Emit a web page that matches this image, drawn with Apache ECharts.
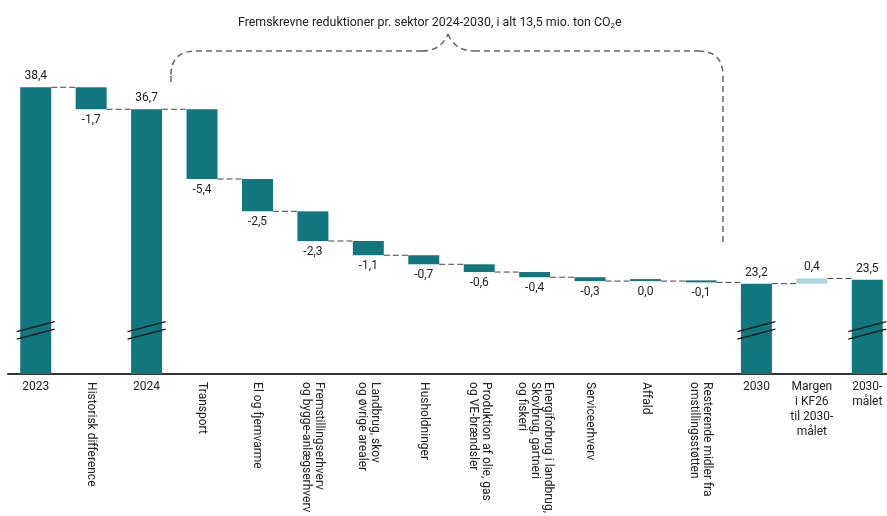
<!DOCTYPE html>
<html>
<head>
<meta charset="utf-8">
<script src="https://cdn.jsdelivr.net/npm/echarts@6/dist/echarts.min.js"></script>
<style>html,body{margin:0;padding:0;background:#fff;overflow:hidden}#c{width:895px;height:516px}</style>
</head>
<body>
<div id="c"></div>
<script>
// ---- data ----
var categories = [
  '2023', 'Historisk difference', '2024', 'Transport', 'El og fjernvarme',
  'Fremstillingserhverv\nog bygge-anlægserhverv', 'Landbrug, skov\nog øvrige arealer',
  'Husholdninger', 'Produktion af olie, gas\nog VE-brændsler',
  'Energiforbrug i landbrug,\nSkovbrug, gartneri\nog fiskeri', 'Serviceerhverv', 'Affald',
  'Resterende midler fra\nomstillingsstøtten', '2030', 'Margen\ni KF26\ntil 2030-\nmålet', '2030-\nmålet'
];
var values = [38.4, -1.7, 36.7, -5.4, -2.5, -2.3, -1.1, -0.7, -0.6, -0.4, -0.3, 0.0, -0.1, 23.2, 0.4, 23.5];
var isTotal = [1, 0, 1, 0, 0, 0, 0, 0, 0, 0, 0, 0, 0, 1, 0, 1];
var horizontalLabel = [1, 0, 1, 0, 0, 0, 0, 0, 0, 0, 0, 0, 0, 1, 1, 1];
var titleText = 'Fremskrevne reduktioner pr. sektor 2024-2030, i alt 13,5 mio. ton CO{sub|2}e';

// ---- waterfall construction ----
var TEAL = '#12767e', LIGHT = '#a8d8dc';
var baseData = [], barData = [], connData = [], breakData = [];
var level = 0;
function fmt(v) { return v.toFixed(1).replace('.', ','); }
for (var i = 0; i < values.length; i++) {
  var v = values[i];
  if (isTotal[i]) {
    baseData.push(0);
    barData.push({ value: v, label: { position: 'top' }, itemStyle: { color: TEAL } });
    level = v;
    breakData.push([i, 0]);
  } else {
    var start = level, end = level + v;
    baseData.push(Math.min(start, end));
    barData.push({ value: Math.abs(v), label: { position: v > 0 ? 'top' : 'bottom' },
                   itemStyle: { color: v > 0 ? LIGHT : TEAL } });
    level = end;
  }
  if (i < values.length - 1) connData.push([i, level]);
}

var chart = echarts.init(document.getElementById('c'));
var BAR_W = 31;
var BREAK_Y = 19.6;
var font = 'Roboto, "Noto Sans", sans-serif';
var braceStyle = { fill: 'none', stroke: '#666', lineWidth: 1.5, lineDash: [6, 4] };

chart.setOption({
  animation: false,
  textStyle: { fontFamily: font },
  title: {
    text: titleText, left: 233, top: 11,
    textStyle: { fontFamily: font, fontSize: 12.4, fontWeight: 'normal', color: '#222',
      rich: { sub: { fontSize: 8, fontFamily: font, color: '#222', padding: [6, 0, 0, 0] } } }
  },
  grid: { left: 8, right: 0, top: 66.6, bottom: 140, containLabel: false },
  xAxis: [{
    type: 'category', data: categories, position: 'bottom',
    axisLine: { lineStyle: { color: '#333', width: 2 } }, axisTick: { show: false },
    axisLabel: { interval: 0, color: '#222', fontSize: 12, fontFamily: font, margin: 5, lineHeight: 15,
      formatter: function (val, idx) { return horizontalLabel[idx] ? val : ''; } }
  }, {
    type: 'category', data: categories, position: 'bottom', gridIndex: 0,
    axisLine: { show: false }, axisTick: { show: false },
    axisLabel: { interval: 0, rotate: -90, color: '#222', fontSize: 12, fontFamily: font, margin: 8, lineHeight: 13,
      formatter: function (val, idx) { return horizontalLabel[idx] ? '' : val; } }
  }],
  yAxis: { type: 'value', min: 16.2, max: 40, show: false, splitLine: { show: false } },
  series: [{
    type: 'bar', stack: 'w', data: baseData, barWidth: BAR_W,
    itemStyle: { color: 'transparent' }, silent: true
  }, {
    type: 'bar', stack: 'w', barWidth: BAR_W, barMinHeight: 2,
    data: barData,
    label: { show: true, color: '#222', fontSize: 12, fontFamily: font, distance: 5,
      formatter: function (p) { return fmt(values[p.dataIndex]); } }
  }, {
    type: 'custom', data: connData, z: 1, silent: true,
    renderItem: function (params, api) {
      var p = api.coord([api.value(0), api.value(1)]);
      var band = api.size([1, 0])[0];
      return { type: 'line',
        shape: { x1: p[0] + BAR_W / 2, y1: p[1], x2: p[0] + band - BAR_W / 2, y2: p[1] },
        style: { stroke: '#444', lineWidth: 1, lineDash: [6, 3] } };
    }
  }, {
    type: 'custom', data: breakData, z: 5, silent: true,
    renderItem: function (params, api) {
      var p = api.coord([api.value(0), BREAK_Y]);
      var x = p[0], y = p[1];
      return { type: 'group', children: [
        { type: 'line', shape: { x1: x - 19, y1: y + 1.5, x2: x + 19, y2: y - 8.5 }, style: { stroke: '#111', lineWidth: 1.3 } },
        { type: 'line', shape: { x1: x - 19, y1: y + 9, x2: x + 19, y2: y - 1 }, style: { stroke: '#111', lineWidth: 1.3 } }
      ] };
    }
  }],
  graphic: [{
    type: 'group', silent: true, children: [
      { type: 'line', shape: { x1: 171, y1: 82, x2: 171, y2: 75 }, style: braceStyle },
      { type: 'bezierCurve', shape: { x1: 171, y1: 75, cpx1: 171, cpy1: 51, x2: 196, y2: 51 }, style: braceStyle },
      { type: 'line', shape: { x1: 196, y1: 51, x2: 422, y2: 51 }, style: braceStyle },
      { type: 'bezierCurve', shape: { x1: 422, y1: 51, cpx1: 441, cpy1: 51, x2: 448, y2: 34 }, style: braceStyle },
      { type: 'bezierCurve', shape: { x1: 448, y1: 34, cpx1: 455, cpy1: 51, x2: 474, y2: 51 }, style: braceStyle },
      { type: 'line', shape: { x1: 474, y1: 51, x2: 698, y2: 51 }, style: braceStyle },
      { type: 'bezierCurve', shape: { x1: 698, y1: 51, cpx1: 723, cpy1: 51, x2: 723, y2: 76 }, style: braceStyle },
      { type: 'line', shape: { x1: 723, y1: 76, x2: 723, y2: 246 }, style: braceStyle }
    ]
  }]
});
</script>
</body>
</html>
